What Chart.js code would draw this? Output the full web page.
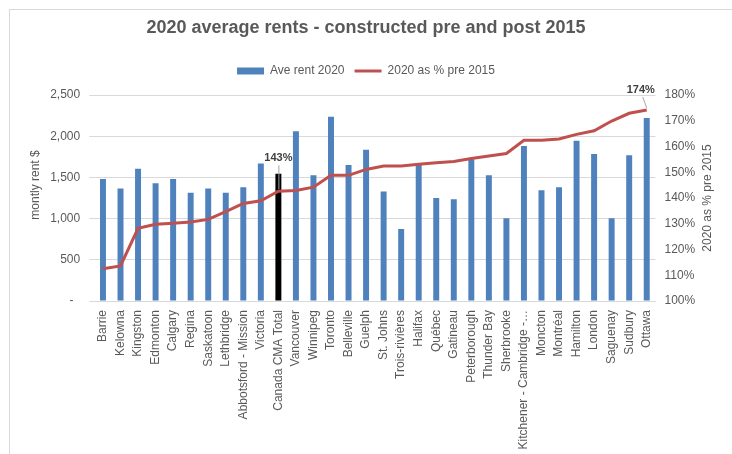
<!DOCTYPE html>
<html>
<head>
<meta charset="utf-8">
<script src="https://cdn.jsdelivr.net/npm/chart.js@4.4.1/dist/chart.umd.min.js"></script>
<style>
  html, body { margin: 0; padding: 0; background: #fff; }
  #wrap { position: relative; width: 732px; height: 454px; overflow: hidden; }
  #frame { position: absolute; left: 9px; top: 9px; width: 800px; height: 500px;
           border-left: 1px solid #d9d9d9; border-top: 1px solid #d9d9d9; }
  canvas { position: absolute; left: 0; top: 0; }
</style>
</head>
<body>
<div id="wrap">
  <div id="frame"></div>
  <canvas id="rentChart" width="732" height="454"></canvas>
</div>
<script>
// data
const cities = [
  'Barrie', 'Kelowna', 'Kingston', 'Edmonton', 'Calgary', 'Regina', 'Saskatoon',
  'Lethbridge', 'Abbotsford - Mission', 'Victoria', 'Canada CMA Total', 'Vancouver',
  'Winnipeg', 'Toronto', 'Belleville', 'Guelph', 'St. Johns', 'Trois-rivières',
  'Halifax', 'Québec', 'Gatineau', 'Peterborough', 'Thunder Bay', 'Sherbrooke',
  'Kitchener - Cambridge -…', 'Moncton', 'Montréal', 'Hamilton', 'London',
  'Saguenay', 'Sudbury', 'Ottawa'
];
const rent2020 = [
  1480, 1365, 1605, 1430, 1480, 1315, 1365, 1315, 1380, 1670, 1545, 2060,
  1525, 2235, 1650, 1835, 1330, 875, 1650, 1250, 1235, 1720, 1525, 1005,
  1880, 1345, 1380, 1945, 1785, 1005, 1770, 2220
];
const pctPre2015 = [
  112.5, 113.6, 128.2, 129.8, 130.2, 130.7, 131.7, 134.7, 137.9, 138.9, 142.6, 142.9,
  144.2, 148.8, 148.8, 151.1, 152.4, 152.4, 153.1, 153.7, 154.2, 155.3, 156.3, 157.3,
  162.4, 162.4, 162.9, 164.7, 166.1, 169.9, 172.9, 174.2
];
const highlightCity = 'Canada CMA Total';
const labelledPoints = [10, 31];   // points that carry a % label
const rentTicks = { min: 0, max: 2500, step: 500 };
const pctTicks = { min: 100, max: 180, step: 10 };

const FONT = '"Liberation Sans", Arial, sans-serif';
const GREY = '#595959';
Chart.defaults.font.family = FONT;
Chart.defaults.color = GREY;

// axis titles and the two % labels
const extraText = {
  id: 'extraText',
  afterDraw(chart) {
    const ctx = chart.ctx;
    const area = chart.chartArea;
    const midY = (area.top + area.bottom) / 2;
    ctx.save();
    ctx.font = '12px ' + FONT;
    ctx.fillStyle = GREY;
    ctx.textAlign = 'center';
    ctx.textBaseline = 'middle';
    ctx.translate(35.5, midY - 13);
    ctx.rotate(-Math.PI / 2);
    ctx.fillText('montly rent $', 0, 0);
    ctx.restore();

    ctx.save();
    ctx.font = '12px ' + FONT;
    ctx.fillStyle = GREY;
    ctx.textAlign = 'center';
    ctx.textBaseline = 'middle';
    ctx.translate(chart.scales.y1.right - 24, midY);
    ctx.rotate(-Math.PI / 2);
    ctx.fillText('2020 as % pre 2015', 0, 0);
    ctx.restore();

    const meta = chart.getDatasetMeta(1);
    labelledPoints.forEach(i => {
      const pt = meta.data[i];
      const last = i === cities.length - 1;
      const tx = last ? pt.x - 6 : pt.x;
      const ty = last ? pt.y - 20 : pt.y - 33;
      ctx.save();
      ctx.strokeStyle = '#a6a6a6';
      ctx.lineWidth = 1;
      ctx.beginPath();
      ctx.moveTo(tx + (last ? 2 : 0.5), ty + 7);
      ctx.lineTo(pt.x + (last ? 0 : 0.5), pt.y - 2);
      ctx.stroke();
      ctx.font = 'bold 11px ' + FONT;
      ctx.fillStyle = '#404040';
      ctx.textAlign = 'center';
      ctx.textBaseline = 'middle';
      ctx.fillText(Math.round(pctPre2015[i]) + '%', tx, ty);
      ctx.restore();
    });
  }
};

new Chart(document.getElementById('rentChart').getContext('2d'), {
  type: 'bar',
  data: {
    labels: cities,
    datasets: [{
      label: 'Ave rent 2020',
      data: rent2020,
      backgroundColor: cities.map(c => c === highlightCity ? '#000000' : '#4f81bd'),
      legendColor: '#4f81bd',
      yAxisID: 'y',
      barPercentage: 0.34,
      categoryPercentage: 1,
      order: 1
    }, {
      type: 'line',
      label: '2020 as % pre 2015',
      data: pctPre2015,
      borderColor: '#c0504d',
      legendColor: '#c0504d',
      borderWidth: 3,
      pointRadius: 0,
      tension: 0,
      yAxisID: 'y1',
      order: 0
    }]
  },
  options: {
    responsive: false,
    animation: false,
    layout: { padding: 0 },
    plugins: {
      title: {
        display: true,
        text: '2020 average rents - constructed pre and post 2015',
        color: GREY,
        font: { size: 18, weight: 'bold' },
        padding: { top: 17, bottom: 16.4 }
      },
      legend: {
        weight: 1800,
        labels: {
          usePointStyle: true,
          pointStyleWidth: 27,
          boxHeight: 7,
          padding: 10,
          color: GREY,
          font: { size: 12 },
          generateLabels: chart => chart.data.datasets.map((ds, i) => ({
            text: ds.label,
            datasetIndex: i,
            fillStyle: ds.legendColor,
            strokeStyle: ds.legendColor,
            lineWidth: ds.type === 'line' ? 3 : 0,
            pointStyle: ds.type === 'line' ? 'line' : 'rect',
            fontColor: GREY,
            hidden: false
          }))
        }
      },
      // empty spacer between legend and plot
      subtitle: {
        display: true,
        text: '',
        font: { size: 1 },
        padding: { top: 0, bottom: 6.8 }
      },
      tooltip: { enabled: false }
    },
    scales: {
      x: {
        grid: { display: false, drawTicks: false },
        border: { color: '#d9d9d9' },
        ticks: {
          autoSkip: false,
          minRotation: 90,
          maxRotation: 90,
          padding: 9,
          color: GREY,
          font: { size: 12 }
        },
        afterFit: s => { s.height = 153; }
      },
      y: {
        position: 'left',
        min: rentTicks.min,
        max: rentTicks.max,
        grid: { color: '#d9d9d9', tickLength: 5 },
        border: { display: false },
        ticks: {
          stepSize: rentTicks.step,
          padding: 9,
          color: GREY,
          font: { size: 12 },
          callback: v => v === 0 ? '-  ' : v.toLocaleString('en-US')
        },
        afterFit: s => { s.width = 94.2; }
      },
      y1: {
        position: 'right',
        min: pctTicks.min,
        max: pctTicks.max,
        grid: { display: false, drawTicks: false },
        border: { display: false },
        ticks: {
          stepSize: pctTicks.step,
          padding: 9,
          color: GREY,
          font: { size: 12 },
          callback: v => v + '%'
        },
        afterFit: s => { s.width = 76.5; }
      }
    }
  },
  plugins: [extraText]
});
</script>
</body>
</html>
